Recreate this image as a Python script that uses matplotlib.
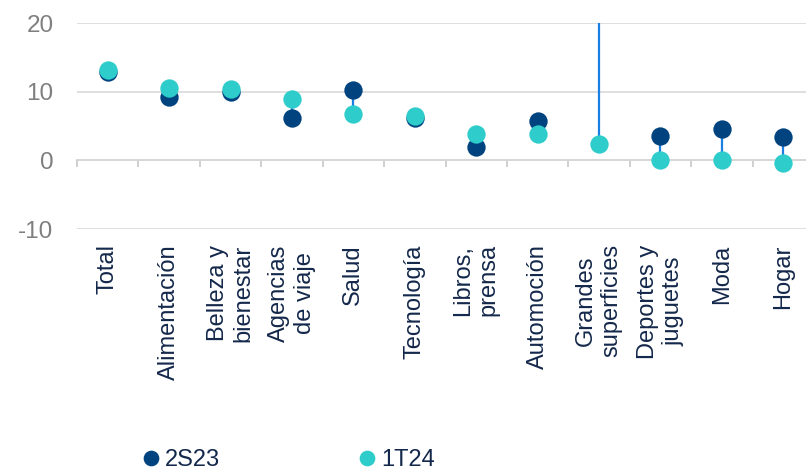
import matplotlib
matplotlib.use("Agg")
import matplotlib.pyplot as plt
from matplotlib.lines import Line2D
import numpy as np

plt.rcParams['font.family'] = ['Liberation Sans', 'DejaVu Sans']
plt.rcParams['axes.unicode_minus'] = False

categories = ["Total", "Alimentación", "Belleza y\nbienestar", "Agencias\nde viaje",
              "Salud", "Tecnología", "Libros,\nprensa", "Automoción",
              "Grandes\nsuperficies", "Deportes y\njuguetes", "Moda", "Hogar"]
s2_23 = [12.8, 9.2, 10.0, 6.1, 10.2, 6.2, 2.0, 5.7, 27.0, 3.5, 4.5, 3.4]
t1_24 = [13.2, 10.5, 10.4, 9.0, 6.7, 6.4, 3.9, 3.8, 2.4, 0.0, 0.0, -0.4]
yticks = [-10, 0, 10, 20]

NAVY = "#00437E"
TEAL = "#2ECDCB"
LINK = "#1A7FE3"
GRID = "#D9D9D9"
LABEL = "#14284B"

fig = plt.figure(figsize=(8.06, 4.70), dpi=100)
ax = fig.add_axes([77 / 806, 1 - 229 / 470, 737 / 806, 206 / 470])

x = np.arange(len(categories))
ax.vlines(x, s2_23, t1_24, color=LINK, lw=1.6, zorder=2)
ax.plot(x, s2_23, "o", color=NAVY, ms=13.2, mec="none", zorder=3)
ax.plot(x, t1_24, "o", color=TEAL, ms=13.2, mec="none", zorder=4)

ax.set_xlim(-0.5, len(categories) - 0.5)
ax.set_ylim(-10, 20)
ax.set_yticks(yticks)
ax.yaxis.grid(True, color=GRID, lw=1.2)
ax.set_axisbelow(True)
for s in ax.spines.values():
    s.set_visible(False)
ax.tick_params(axis="y", length=0, pad=17, labelsize=17.5, labelcolor="#7F7F7F")

ax.set_xticks(x)
ax.set_xticklabels(categories, rotation=90, fontsize=17, color=LABEL)
for t in ax.get_xticklabels():
    t.set_multialignment("center")
ax.tick_params(axis="x", length=0, pad=11)

# category axis running along zero, with ticks between categories
zero_axis = ax.secondary_xaxis(10 / 30)
zero_axis.spines["bottom"].set_color("#C8C8C8")
zero_axis.spines["bottom"].set_linewidth(1.2)
zero_axis.set_xticks(np.arange(-0.5, len(categories), 1.0))
zero_axis.tick_params(axis="x", length=5, width=1.2, color="#C8C8C8",
                      labelbottom=False, direction="out")

handles = [Line2D([], [], ls="none", marker="o", color=NAVY, ms=11.3, mec="none"),
           Line2D([], [], ls="none", marker="o", color=TEAL, ms=11.3, mec="none")]
fig.legend(handles, ["2S23", "1T24"], loc="center left",
           bbox_to_anchor=(144 / 806, 1 - 460 / 470), ncol=2, frameon=False,
           fontsize=17, labelcolor=LABEL, handlelength=0.6, handletextpad=0.3,
           columnspacing=5.9, borderpad=0, borderaxespad=0)

fig.savefig("out.png", dpi=100)
